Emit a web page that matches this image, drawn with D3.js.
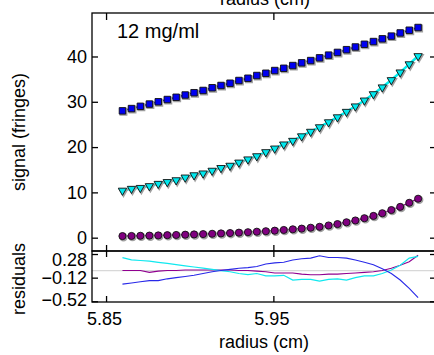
<!DOCTYPE html>
<html>
<head>
<meta charset="utf-8">
<script src="https://cdn.jsdelivr.net/npm/d3@7"></script>
<style>
  body { margin: 0; background: #fff; }
  svg { display: block; font-family: "Liberation Sans", Arial, sans-serif; }
</style>
</head>
<body>
<svg id="chart" width="434" height="355"></svg>
<script>
// radius (cm) of each scan point
const radius = [5.8598, 5.8652, 5.8705, 5.8759, 5.8812, 5.8866, 5.8919, 5.8973, 5.9026, 5.9080,
  5.9134, 5.9187, 5.9241, 5.9294, 5.9348, 5.9401, 5.9455, 5.9508, 5.9562, 5.9616,
  5.9669, 5.9723, 5.9776, 5.9830, 5.9883, 5.9937, 5.9990, 6.0044, 6.0098, 6.0151,
  6.0205, 6.0258, 6.0312, 6.0365];

// signal (fringes)
const blueSignal = [28.0, 28.5, 29.0, 29.5, 30.0, 30.5, 31.0, 31.5, 32.0, 32.5,
  33.1, 33.6, 34.1, 34.7, 35.2, 35.8, 36.3, 36.9, 37.4, 38.0,
  38.6, 39.1, 39.7, 40.3, 40.9, 41.5, 42.1, 42.7, 43.3, 43.9,
  44.5, 45.2, 45.8, 46.4];
const cyanSignal = [10.4, 10.8, 11.0, 11.4, 11.9, 12.3, 12.7, 13.3, 13.8, 14.2,
  14.8, 15.4, 15.9, 16.6, 17.3, 18.0, 18.9, 19.7, 20.6, 21.4,
  22.4, 23.4, 24.4, 25.5, 26.6, 27.8, 29.0, 30.3, 31.7, 33.2,
  34.8, 36.5, 38.3, 40.1];
const purpleSignal = [0.35, 0.38, 0.42, 0.46, 0.50, 0.55, 0.60, 0.66, 0.72, 0.79,
  0.86, 0.94, 1.02, 1.11, 1.21, 1.32, 1.43, 1.55, 1.70, 1.85,
  2.0, 2.2, 2.4, 2.7, 3.0, 3.4, 3.8, 4.3, 4.8, 5.4,
  6.1, 6.8, 7.7, 8.6];

// residuals
const blueResid = [-0.23, -0.21, -0.19, -0.17, -0.17, -0.14, -0.12, -0.10, -0.08, -0.05,
  -0.02, 0.00, 0.02, 0.04, 0.05, 0.07, 0.11, 0.13, 0.14, 0.18,
  0.20, 0.21, 0.25, 0.22, 0.22, 0.21, 0.18, 0.14, 0.10, 0.03,
  -0.05, -0.16, -0.30, -0.46];
const cyanResid = [0.22, 0.18, 0.17, 0.16, 0.14, 0.12, 0.10, 0.08, 0.06, 0.04,
  0.02, 0.00, -0.02, -0.05, -0.07, -0.05, -0.09, -0.09, -0.08, -0.16,
  -0.15, -0.15, -0.18, -0.15, -0.14, -0.16, -0.12, -0.09, -0.09, -0.05,
  0.01, 0.09, 0.21, 0.24];
const purpleResid = [0.00, 0.00, 0.00, -0.03, -0.01, 0.00, 0.00, 0.01, 0.01, 0.01,
  0.01, 0.01, 0.01, 0.00, 0.00, -0.01, -0.02, -0.04, -0.04, -0.04,
  -0.06, -0.07, -0.07, -0.06, -0.06, -0.05, -0.04, -0.03, -0.02, 0.00,
  0.04, 0.09, 0.15, 0.26];

const xTicks = [5.85, 5.95];
const yTicks = [0, 10, 20, 30, 40];
const residTicks = [0.28, -0.12, -0.52];

const left = 92, right = 436;
const mainTop = 13, mainBottom = 251, resBottom = 302;

const svg = d3.select('#chart');

const x = d3.scaleLinear().domain([5.8416, 6.0472]).range([left, right]);
const y = d3.scaleLinear().domain([-2.94, 49.6]).range([mainBottom, mainTop]);
const yr = d3.scaleLinear().domain([-0.532, 0.331]).range([resBottom, mainBottom]);

const fmt = d => (d < 0 ? '\u2212' : '') + Math.abs(d).toFixed(2);

function styleAxis(g) {
  g.select('.domain').remove();
  g.selectAll('line').attr('stroke', '#000').attr('stroke-width', 1.3);
  g.selectAll('text').attr('font-size', 18).attr('fill', '#000')
    .attr('font-family', '"Liberation Sans", Arial, sans-serif');
}

// axes for main panel
svg.append('g').attr('transform', `translate(${left},0)`)
  .call(d3.axisLeft(y).tickValues(yTicks).tickSize(-6).tickPadding(5))
  .call(styleAxis);
svg.append('g').attr('transform', `translate(${right},0)`)
  .call(d3.axisRight(y).tickValues(yTicks).tickSize(-6).tickFormat(''))
  .call(styleAxis);
svg.append('g').attr('transform', `translate(0,${mainTop})`)
  .call(d3.axisTop(x).tickValues(xTicks).tickSize(-7).tickFormat(''))
  .call(styleAxis);
svg.append('g').attr('transform', `translate(0,${mainBottom})`)
  .call(d3.axisBottom(x).tickValues(xTicks).tickSize(6).tickFormat(''))
  .call(g => g.selectAll('line').attr('y1', -6).attr('y2', 6))
  .call(styleAxis);

// axes for residual panel
const resLeft = svg.append('g').attr('transform', `translate(${left},0)`)
  .call(d3.axisLeft(yr).tickValues(residTicks).tickSize(-6).tickPadding(5).tickFormat(fmt))
  .call(styleAxis);
resLeft.selectAll('text').attr('dy', d => d === 0.28 ? '0.62em' : (d === -0.52 ? '0.26em' : '0.32em'));
svg.append('g').attr('transform', `translate(${right},0)`)
  .call(d3.axisRight(yr).tickValues(residTicks).tickSize(-6).tickFormat(''))
  .call(styleAxis);
const xAxisG = svg.append('g').attr('transform', `translate(0,${resBottom})`)
  .call(d3.axisBottom(x).tickValues(xTicks).tickSize(-6).tickPadding(10).tickFormat(d3.format('.2f')))
  .call(styleAxis);
xAxisG.selectAll('text').attr('dx', -2);

// zero line in residuals
svg.append('line')
  .attr('x1', left).attr('x2', right)
  .attr('y1', yr(0)).attr('y2', yr(0))
  .attr('stroke', '#d8d8d8').attr('stroke-width', 1.2);

// residual traces
const resLine = vals => d3.line().x((d, i) => x(radius[i])).y(d => yr(d))(vals);
svg.append('path').attr('d', resLine(purpleResid)).attr('fill', 'none').attr('stroke', '#900090').attr('stroke-width', 1.1);
svg.append('path').attr('d', resLine(cyanResid)).attr('fill', 'none').attr('stroke', '#10e8ef').attr('stroke-width', 1.2);
svg.append('path').attr('d', resLine(blueResid)).attr('fill', 'none').attr('stroke', '#2828e8').attr('stroke-width', 1.1);

// signal fits and markers
const sigLine = vals => d3.line().x((d, i) => x(radius[i])).y(d => y(d))(vals);

function series(vals, lineColor, lineWidth, symbol, size, fill) {
  svg.append('path').attr('d', sigLine(vals))
    .attr('fill', 'none').attr('stroke', lineColor).attr('stroke-width', lineWidth);
  const sym = d3.symbol().type(symbol).size(size);
  const flip = symbol === d3.symbolTriangle ? ' rotate(180)' : '';
  const g = svg.append('g');
  g.selectAll('path.shadow').data(vals).enter().append('path')
    .attr('class', 'shadow')
    .attr('d', sym)
    .attr('transform', (d, i) => `translate(${x(radius[i]) + 1},${y(d) + 1})` + flip)
    .attr('fill', '#a0a0a0').attr('stroke', '#a0a0a0').attr('stroke-width', 1.5);
  g.selectAll('path.mark').data(vals).enter().append('path')
    .attr('class', 'mark')
    .attr('d', sym)
    .attr('transform', (d, i) => `translate(${x(radius[i])},${y(d)})` + flip)
    .attr('fill', fill).attr('stroke', '#111').attr('stroke-width', 0.9);
}

series(purpleSignal, '#800080', 1.5, d3.symbolCircle, 40, '#800080');
series(cyanSignal, '#00f0f0', 2.5, d3.symbolTriangle, 30, '#00e8ee');
series(blueSignal, '#0000b0', 1.5, d3.symbolSquare, 42, '#0000f0');

// frames
svg.append('rect').attr('x', left).attr('y', mainTop)
  .attr('width', right - left).attr('height', mainBottom - mainTop)
  .attr('fill', 'none').attr('stroke', '#000').attr('stroke-width', 1.3);
svg.append('rect').attr('x', left).attr('y', mainBottom)
  .attr('width', right - left).attr('height', resBottom - mainBottom)
  .attr('fill', 'none').attr('stroke', '#000').attr('stroke-width', 1.3);

// labels
svg.append('text').attr('x', 117).attr('y', 38)
  .attr('font-size', 20).text('12 mg/ml');
svg.append('text').attr('x', 265).attr('y', 5).attr('text-anchor', 'middle')
  .attr('font-size', 18).text('radius (cm)');
svg.append('text').attr('x', 264).attr('y', 348).attr('text-anchor', 'middle')
  .attr('font-size', 18).text('radius (cm)');
svg.append('text').attr('transform', 'translate(25,132) rotate(-90)').attr('text-anchor', 'middle')
  .attr('font-size', 18).text('signal (fringes)');
svg.append('text').attr('transform', 'translate(25,279) rotate(-90)').attr('text-anchor', 'middle')
  .attr('font-size', 18).text('residuals');
</script>
</body>
</html>
